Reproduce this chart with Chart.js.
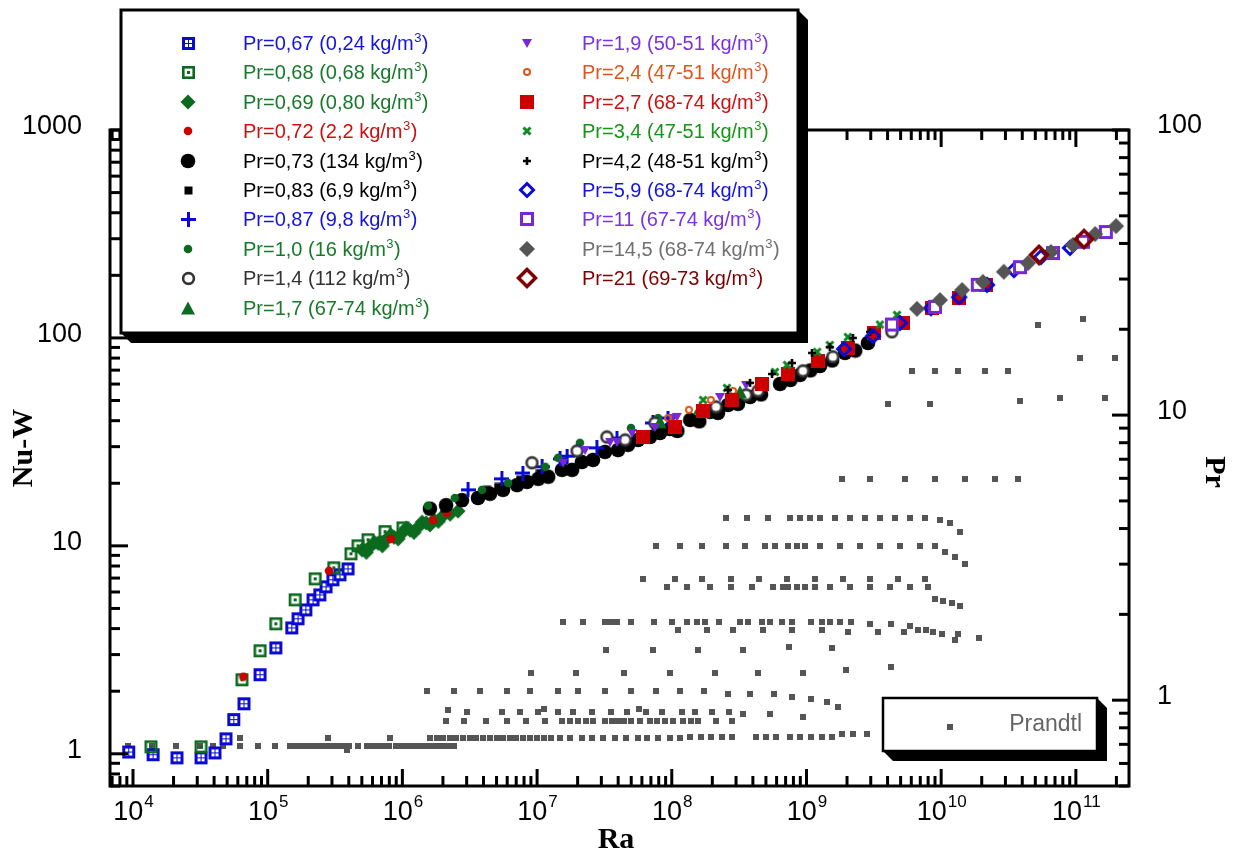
<!DOCTYPE html>
<html>
<head>
<meta charset="utf-8">
<title>Nu-W vs Ra</title>
<script src="https://cdn.jsdelivr.net/npm/chart.js@4.4.1/dist/chart.umd.min.js"></script>
<style>
  body { margin: 0; background: #fff; }
  canvas { display: block; }
</style>
</head>
<body>
<canvas id="myChart" width="1237" height="855"></canvas>
<script>
// ---- datos (Ra, Nu-W) ----
const ra067 = [9.3e3,1.41e4,2.12e4,3.2e4,4.06e4,4.9e4,5.6e4,6.67e4,8.77e4,1.15e5,1.51e5,1.68e5,1.92e5,2.17e5,2.44e5,2.71e5,3.05e5,3.44e5,3.95e5];
const nu067 = [1.02,0.99,0.956,0.956,1.01,1.18,1.46,1.74,2.40,3.23,4.03,4.46,4.92,5.50,5.81,6.35,6.87,7.26,7.75];
const ra068 = [1.36e4,3.2e4,6.44e4,8.77e4,1.15e5,1.6e5,2.25e5,3.1e5,4.15e5,4.68e5,5.56e5,7.43e5,1.01e6];
const nu068 = [1.08,1.08,2.27,3.13,4.22,5.5,6.94,7.84,9.16,10.0,10.7,11.7,12.2];
const ra069 = [5.01e5,5.4e5,5.74e5,6.2e5,6.59e5,7.1e5,7.55e5,8.2e5,8.67e5,9.3e5,9.93e5,1.07e6,1.14e6,1.22e6,1.31e6,1.4e6,1.5e6,1.6e6,1.72e6,1.85e6,1.97e6,2.26e6,2.59e6];
const nu069 = [9.57,9.3,9.89,10.4,10.3,10.0,10.7,11.3,11.0,10.8,11.5,12.2,11.9,11.6,12.3,13.0,12.9,12.6,13.3,13.1,13.8,14.2,14.7];
const ra072 = [6.6e4,2.85e5,8.22e5,1.69e6,2.14e6,4.25e6,5.7e6];
const nu072 = [2.35,7.59,10.8,13.3,14.4,18.2,19.4];
const ra073 = [1.6e6,2.11e6,2.77e6,3.64e6,4.47e6,5.58e6,7.1e6,8.41e6,1.02e7,1.21e7,1.53e7,1.82e7,2.15e7,2.6e7,3.19e7,3.99e7,4.73e7,5.61e7,6.89e7,8.17e7,9.7e7,1.37e8,1.92e8,2.61e8,3.81e8,6.36e8,8.95e8,1.26e9,1.93e9,2.86e9,
               1.1e8,1.6e8,2.2e8,3.1e8,4.6e8,7.6e8,1.07e9,1.55e9,2.3e9];
const nu073 = [15.1,15.7,16.6,17.0,17.8,18.6,19.6,20.3,21.0,21.5,23.2,23.2,25.3,25.9,28.3,28.9,30.6,32.3,33.4,34.9,36.5,40.3,44.1,47.6,52.0,60.1,66.4,73.3,84.7,94.6,
               35.7,39.7,43.6,48.2,53.5,62.8,69.8,77.9,87.0];
const ra083 = [2.07e6,2.77e6,4.25e6,5.13e6,7.47e6,1.05e7];
const nu083 = [15.2,16.1,18.6,19.2,20.8,22.4];
const ra087 = [3.07e6,5.48e6,7.85e6,1.09e7,1.48e7,1.67e7,2.78e7,3.92e7,7.25e7,9.37e7];
const nu087 = [18.6,21.0,22.4,24.0,26.2,27.0,29.6,33.0,39.0,41.2];
const ra10 = [1.55e6,2.45e6,3.9e6,6.08e6,1.15e7,1.43e7,2.08e7,4.98e7,7.91e7];
const nu10 = [15.6,17.0,18.6,20.1,24.0,26.5,31.3,36.9,41.2];
const ra14 = [9.16e6,1.98e7,3.3e7,4.5e7,7.5e7,2.13e8,3.56e8,4.37e8,9.42e8,1.57e9,4.31e9];
const nu14 = [25.1,28.6,33.4,32.3,39.0,46.6,53.2,55.6,69.4,81.1,107];
const ra17 = [8.17e7,1.62e8,3.21e8];
const nu17 = [39.5,46.1,55.0];
const ra19 = [1.56e7,2.27e7,3.48e7,3.92e7,5.07e7,7.5e7,1.0e8,1.09e8,2.28e8,3.56e8];
const nu19 = [25.1,28.9,31.6,31.6,34.9,37.3,41.2,41.7,52.0,59.4];
const ra24 = [9.37e7,1.34e8,1.95e8,2.85e8];
const nu24 = [41.2,45.1,50.3,55.6];
const ra27 = [6.11e7,1.06e8,1.71e8,2.8e8,4.68e8,7.3e8,1.22e9,2.03e9,3.17e9,5.2e9,8.55e9,1.36e10,2.15e10];
const nu27 = [33.4,37.3,44.6,50.3,60.1,67.1,77.5,89.5,106,118,139,156,180];
const ra34 = [1.71e8,2.57e8,5.83e8,7.17e8,1.2e9,1.49e9,2.03e9,3.51e9,4.7e9];
const nu34 = [50.3,57.5,68.6,74.2,85.7,92.5,101,116,129];
const ra42 = [2.61e8,3.81e8,5.55e8,7.8e8,1.1e9,1.49e9,2.21e9,2.96e9];
const nu42 = [56.2,60.8,67.1,75.8,84.7,90.5,100,107];
const ra59 = [1.9e9,3.12e9,4.94e9,8.4e9,1.36e10,2.19e10,3.47e10,5.5e10,9.04e10];
const nu59 = [88.5,102,118,139,157,180,212,245,271];
const ra11 = [4.31e9,9.0e9,1.87e10,3.85e10,6.76e10,1.13e11,1.67e11];
const nu11 = [116,141,180,219,256,290,323];
const ra145 = [6.61e9,9.8e9,1.43e10,2.04e10,2.92e10,4.41e10,6.53e10,9.51e10,1.39e11,1.99e11];
const nu145 = [138,152,170,186,208,229,259,280,316,345];
const ra21 = [5.32e10,1.15e11];
const nu21 = [251,299];

// Prandtl (eje derecho): pares [Ra, Pr]
const prandtl = [
  [9.2e3,0.689],[1.38e4,0.689],[2.09e4,0.689],[3.14e4,0.689],[3.92e4,0.689],[4.66e4,0.689],[6.2e4,0.689],[8.45e4,0.689],[1.13e5,0.689],
  [1.47e5,0.689],[1.63e5,0.689],[1.8e5,0.689],[2e5,0.689],[2.2e5,0.689],[2.45e5,0.689],[2.7e5,0.689],[3e5,0.689],[3.3e5,0.689],[3.65e5,0.689],[4e5,0.689],[4.7e5,0.689],
  [5.45e5,0.689],[6e5,0.689],[6.6e5,0.689],[7.3e5,0.689],[8e5,0.689],[8.9e5,0.689],[9.8e5,0.689],[1.08e6,0.689],[1.2e6,0.689],[1.33e6,0.689],[1.47e6,0.689],[1.62e6,0.689],[1.8e6,0.689],[2e6,0.689],[2.2e6,0.689],[2.4e6,0.689],
  [6.2e4,0.735],[2.8e5,0.735],[3.88e5,0.667],[8.1e5,0.735],
  [1.6e6,0.735],[1.8e6,0.735],[2e6,0.735],[2.25e6,0.735],[2.5e6,0.735],[2.8e6,0.735],[3.15e6,0.735],[3.5e6,0.735],[4e6,0.735],[4.5e6,0.735],[5e6,0.735],[5.6e6,0.735],[6.3e6,0.735],[7e6,0.735],[7.9e6,0.735],[8.9e6,0.735],[1e7,0.735],[1.12e7,0.735],[1.27e7,0.735],
  [1.48e7,0.735],[1.77e7,0.735],[2.15e7,0.735],[2.57e7,0.735],[3.08e7,0.735],[3.77e7,0.735],[4.6e7,0.735],[5.6e7,0.735],[6.6e7,0.735],[7.9e7,0.735],[9.7e7,0.735],[1.15e8,0.735],
  [1.37e8,0.741],[1.65e8,0.741],[1.97e8,0.741],[2.37e8,0.741],[2.8e8,0.741],[4.2e8,0.741],[4.97e8,0.741],[5.95e8,0.741],[7.5e8,0.741],[8.9e8,0.741],[1.08e9,0.741],[1.3e9,0.741],[1.54e9,0.741],
  [1.85e9,0.759],[2.2e9,0.759],[2.8e9,0.759],
  [2.11e6,0.844],[2.87e6,0.844],[4.18e6,0.844],[5.98e6,0.844],[8.28e6,0.844],[1.15e7,0.844],[1.53e7,0.844],[1.77e7,0.844],[2.01e7,0.844],[2.32e7,0.844],[2.6e7,0.844],[3.19e7,0.844],[3.6e7,0.844],
  [4e7,0.844],[4.45e7,0.844],[4.97e7,0.844],[5.8e7,0.844],[6.89e7,0.844],[7.8e7,0.844],[8.9e7,0.844],[1.02e8,0.844],[1.22e8,0.844],[1.38e8,0.844],[1.57e8,0.844],[2.12e8,0.844],[2.8e8,0.844],
  [2.18e6,0.922],[3.02e6,0.907],[5.48e6,0.907],[7.47e6,0.907],[1.02e7,0.907],[1.12e7,0.93],[1.43e7,0.907],[1.85e7,0.907],[2.56e7,0.907],[3.54e7,0.907],[4.65e7,0.907],[5.71e7,0.93],
  [6.44e7,0.907],[8.46e7,0.907],[1.19e8,0.907],[1.49e8,0.907],[1.99e8,0.907],[2.66e8,0.907],[3.38e8,0.893],[5.36e8,0.893],[9.42e8,0.871],
  [1.52e6,1.076],[2.41e6,1.076],[3.77e6,1.076],[5.98e6,1.076],[8.85e6,1.076],[1.43e7,1.076],[2.01e7,1.076],[3.19e7,1.076],[4.97e7,1.076],[7.64e7,1.076],[1.15e8,1.076],[1.72e8,1.076],
  [2.61e8,1.05],[3.81e8,1.05],[5.74e8,1.05],[7.8e8,1.025],[1.08e9,1.008],[1.42e9,0.984],[1.71e9,0.945],
  [9.02e6,1.245],[1.95e7,1.245],[4.42e7,1.245],[9.7e7,1.245],[2.09e8,1.245],[4.37e8,1.245],[9.42e8,1.245],[1.96e9,1.275],[4.24e9,1.307],
  [3.25e7,1.5],[7.25e7,1.5],[1.57e8,1.5],[3.38e8,1.5],[7.41e8,1.537],[1.55e9,1.52],
  [1.56e7,1.88],[2.19e7,1.88],[3.19e7,1.88],[3.54e7,1.88],[3.92e7,1.88],[4.97e7,1.88],[7.38e7,1.88],[1.0e8,1.88],[1.3e8,1.88],[1.54e8,1.88],[1.77e8,1.88],[2.24e8,1.88],
  [3.21e8,1.88],[3.68e8,1.88],[4.68e8,1.88],[5.36e8,1.88],[6.58e8,1.88],[7.8e8,1.88],[1.08e9,1.88],[1.3e9,1.88],[1.49e9,1.88],[1.77e9,1.88],[2.14e9,1.88],
  [2.96e9,1.852],[4.24e9,1.852],[5.87e9,1.823],[6.72e9,1.764],[7.71e9,1.764],[8.69e9,1.736],[1.01e10,1.708],[1.27e10,1.627],[1.33e10,1.708],[1.91e10,1.653],
  [1.11e8,1.764],[1.83e8,1.764],[2.85e8,1.764],[4.76e8,1.764],[7.8e8,1.764],[1.3e9,1.764],[2.03e9,1.736],[3.4e9,1.736],[5.3e9,1.736],
  [6.11e7,2.667],[1.06e8,2.667],[1.68e8,2.667],[2.75e8,2.667],[4.45e8,2.667],[7.17e8,2.667],[1.16e9,2.667],[1.87e9,2.667],[2.96e9,2.667],[4.77e9,2.667],[7.58e9,2.667],
  [9.0e9,2.27],[1.03e10,2.23],[1.2e10,2.195],[1.38e10,2.14],
  [9.2e7,2.5],[1.3e8,2.5],[1.92e8,2.5],[2.75e8,2.5],[3.94e8,2.5],[5.64e8,2.5],[6.7e8,2.5],[7.3e8,2.5],[8.5e8,2.5],[9.75e8,2.5],[1.16e9,2.5],[1.49e9,2.5],[2.1e9,2.5],[2.96e9,2.5],[4.17e9,2.5],[5.87e9,2.5],[7.98e9,2.5],
  [7.64e7,3.46],[1.15e8,3.46],[1.68e8,3.46],[2.53e8,3.46],[3.49e8,3.46],[4.92e8,3.46],[5.83e8,3.46],[7.3e8,3.46],[8.5e8,3.46],[9.75e8,3.46],[1.26e9,3.46],[1.77e9,3.46],[2.5e9,3.46],[3.51e9,3.46],[4.94e9,3.46],[6.96e9,3.46],[9.0e9,3.46],
  [1.07e10,3.32],[1.27e10,3.19],[1.5e10,3.01],
  [2.53e8,4.37],[3.62e8,4.37],[5.17e8,4.37],[7.53e8,4.37],[8.95e8,4.37],[1.06e9,4.37],[1.26e9,4.37],[1.63e9,4.37],[2.1e9,4.37],[2.72e9,4.37],[3.51e9,4.37],[4.54e9,4.37],[5.87e9,4.37],[7.58e9,4.37],
  [9.8e9,4.3],[1.16e10,4.19],[1.38e10,3.9],
  [1.85e9,5.99],[2.96e9,5.99],[5.38e9,5.99],[9.0e9,5.99],[1.5e10,5.99],[2.5e10,5.99],[3.72e10,5.99],
  [4.03e9,10.9],[8.26e9,10.9],[3.85e10,11.2],[7.62e10,11.5],[1.64e11,11.5],
  [6.07e9,14.3],[9.0e9,14.3],[1.33e10,14.3],[2.11e10,14.3],[3.13e10,14.3],[1.07e11,15.9],[1.95e11,15.9],
  [5.24e10,20.7],[1.13e11,21.8]
];

// ---- simbolos ----
const AZUL = '#0a0ad6', VERDE = '#0c6a1e', ROJO = '#cc0000', NEGRO = '#000000';
const MORADO = '#7428d8', NARANJA = '#e0541c', VERDE2 = '#0f8a22', GRIS = '#555555', GRANATE = '#800000';

function simbolo(w, h, dibujar) {
  const c = document.createElement('canvas');
  c.width = w; c.height = h;
  dibujar(c.getContext('2d'), w / 2, h / 2);
  return c;
}
function rombo(g, cx, cy, r) {
  g.beginPath(); g.moveTo(cx, cy - r); g.lineTo(cx + r, cy); g.lineTo(cx, cy + r); g.lineTo(cx - r, cy); g.closePath();
}
function circulo(g, cx, cy, r) { g.beginPath(); g.arc(cx, cy, r, 0, Math.PI * 2); }

const s067 = simbolo(15, 15, (g) => {
  g.fillStyle = AZUL; g.fillRect(1, 1, 13, 13);
  g.fillStyle = '#fff';
  [[4, 4], [8, 4], [4, 8], [8, 8]].forEach(p => g.fillRect(p[0], p[1], 3, 3));
});
const s068 = simbolo(15, 15, (g) => {
  g.strokeStyle = VERDE; g.lineWidth = 2.6; g.strokeRect(2.3, 2.3, 10.4, 10.4);
  g.fillStyle = VERDE; g.fillRect(6, 6, 3, 3);
});
const s069 = simbolo(16, 16, (g, cx, cy) => { g.fillStyle = VERDE; rombo(g, cx, cy, 7.5); g.fill(); });
const s072 = simbolo(10, 10, (g, cx, cy) => { g.fillStyle = ROJO; circulo(g, cx, cy, 4.3); g.fill(); });
const s073 = simbolo(16, 16, (g, cx, cy) => { g.fillStyle = NEGRO; circulo(g, cx, cy, 7.3); g.fill(); });
const s083 = simbolo(9, 9, (g) => { g.fillStyle = NEGRO; g.fillRect(0.5, 0.5, 8, 8); });
const s087 = simbolo(15, 15, (g, cx, cy) => {
  g.strokeStyle = AZUL; g.lineWidth = 3;
  g.beginPath(); g.moveTo(0, cy); g.lineTo(15, cy); g.moveTo(cx, 0); g.lineTo(cx, 15); g.stroke();
});
const s10 = simbolo(10, 10, (g, cx, cy) => { g.fillStyle = VERDE; circulo(g, cx, cy, 4.3); g.fill(); });
const s14 = simbolo(15, 15, (g, cx, cy) => {
  circulo(g, cx, cy, 5.4); g.fillStyle = '#fff'; g.fill(); g.strokeStyle = '#333'; g.lineWidth = 2.6; g.stroke();
});
const s17 = simbolo(16, 16, (g) => {
  g.fillStyle = VERDE; g.beginPath(); g.moveTo(8, 1.5); g.lineTo(15, 14.5); g.lineTo(1, 14.5); g.closePath(); g.fill();
});
const s19 = simbolo(12, 12, (g) => {
  g.fillStyle = MORADO; g.beginPath(); g.moveTo(1, 2); g.lineTo(11, 2); g.lineTo(6, 11); g.closePath(); g.fill();
});
const s24 = simbolo(10, 10, (g, cx, cy) => { circulo(g, cx, cy, 3); g.strokeStyle = NARANJA; g.lineWidth = 2; g.stroke(); });
const s27 = simbolo(14, 14, (g) => { g.fillStyle = ROJO; g.fillRect(0, 0, 14, 14); });
const s34 = simbolo(10, 10, (g) => {
  g.strokeStyle = VERDE2; g.lineWidth = 3;
  g.beginPath(); g.moveTo(1.5, 1.5); g.lineTo(8.5, 8.5); g.moveTo(8.5, 1.5); g.lineTo(1.5, 8.5); g.stroke();
});
const s42 = simbolo(10, 10, (g, cx, cy) => {
  g.strokeStyle = NEGRO; g.lineWidth = 2.6;
  g.beginPath(); g.moveTo(1, cy); g.lineTo(9, cy); g.moveTo(cx, 1); g.lineTo(cx, 9); g.stroke();
});
const s59 = simbolo(18, 18, (g, cx, cy) => { g.strokeStyle = AZUL; g.lineWidth = 3; rombo(g, cx, cy, 6.5); g.stroke(); });
const s11 = simbolo(16, 16, (g) => {
  g.fillStyle = '#fff'; g.fillRect(2, 2, 12, 12);
  g.strokeStyle = MORADO; g.lineWidth = 3; g.strokeRect(2.5, 2.5, 11, 11);
});
const s145 = simbolo(18, 18, (g, cx, cy) => { g.fillStyle = GRIS; rombo(g, cx, cy, 8); g.fill(); });
const s21 = simbolo(22, 22, (g, cx, cy) => { g.strokeStyle = GRANATE; g.lineWidth = 3.5; rombo(g, cx, cy, 8.5); g.stroke(); });
const sPr = simbolo(6, 6, (g) => { g.fillStyle = GRIS; g.fillRect(0, 0, 6, 6); });

function serie(label, ra, nu, estilo, colorTexto, n) {
  return {
    label: label,
    data: ra.map((r, i) => ({x: r, y: nu[i]})),
    pointStyle: estilo,
    pointRadius: 7,
    textColor: colorTexto,
    yAxisID: 'y',
    order: -n
  };
}

const series = [
  serie('Pr=0,67 (0,24 kg/m', ra067, nu067, s067, '#1414dc', 0),
  serie('Pr=0,68 (0,68 kg/m', ra068, nu068, s068, '#17792a', 1),
  serie('Pr=0,69 (0,80 kg/m', ra069, nu069, s069, '#17792a', 2),
  serie('Pr=0,72 (2,2 kg/m', ra072, nu072, s072, '#cc1111', 3),
  serie('Pr=0,73 (134 kg/m', ra073, nu073, s073, '#000000', 4),
  serie('Pr=0,83 (6,9 kg/m', ra083, nu083, s083, '#000000', 5),
  serie('Pr=0,87 (9,8 kg/m', ra087, nu087, s087, '#1414dc', 6),
  serie('Pr=1,0 (16 kg/m', ra10, nu10, s10, '#17792a', 7),
  serie('Pr=1,4 (112 kg/m', ra14, nu14, s14, '#333333', 8),
  serie('Pr=1,7 (67-74 kg/m', ra17, nu17, s17, '#17792a', 9),
  serie('Pr=1,9 (50-51 kg/m', ra19, nu19, s19, '#7a33e0', 10),
  serie('Pr=2,4 (47-51 kg/m', ra24, nu24, s24, '#e0541c', 11),
  serie('Pr=2,7 (68-74 kg/m', ra27, nu27, s27, '#cc1111', 12),
  serie('Pr=3,4 (47-51 kg/m', ra34, nu34, s34, '#169616', 13),
  serie('Pr=4,2 (48-51 kg/m', ra42, nu42, s42, '#000000', 14),
  serie('Pr=5,9 (68-74 kg/m', ra59, nu59, s59, '#1414dc', 15),
  serie('Pr=11 (67-74 kg/m', ra11, nu11, s11, '#7a33e0', 16),
  serie('Pr=14,5 (68-74 kg/m', ra145, nu145, s145, '#707070', 17),
  serie('Pr=21 (69-73 kg/m', ra21, nu21, s21, '#800000', 18)
];

const prandtlSet = {
  label: 'Prandtl',
  data: prandtl.map(p => ({x: p[0], y: p[1]})),
  pointStyle: sPr,
  pointRadius: 3,
  yAxisID: 'y2',
  order: 1
};

// ---- marco, marcas, etiquetas y leyendas ----
function linea(ctx, x1, y1, x2, y2) { ctx.beginPath(); ctx.moveTo(x1, y1); ctx.lineTo(x2, y2); ctx.stroke(); }

function cajaSombra(ctx, x, y, w, h, s, lw) {
  ctx.fillStyle = '#000';
  ctx.beginPath();
  ctx.moveTo(x + w, y); ctx.lineTo(x + w + s, y + s); ctx.lineTo(x + w + s, y + h + s);
  ctx.lineTo(x + s, y + h + s); ctx.lineTo(x, y + h); ctx.closePath(); ctx.fill();
  ctx.fillStyle = '#fff'; ctx.fillRect(x, y, w, h);
  ctx.strokeStyle = '#000'; ctx.lineWidth = lw; ctx.strokeRect(x, y, w, h);
}

function textoM3(ctx, txt, x, y, color) {
  ctx.fillStyle = color;
  ctx.textAlign = 'left'; ctx.textBaseline = 'alphabetic';
  ctx.font = '20px "Liberation Sans", Arial, sans-serif';
  ctx.fillText(txt, x, y);
  let w = ctx.measureText(txt).width;
  ctx.font = '13px "Liberation Sans", Arial, sans-serif';
  ctx.fillText('3', x + w + 0.5, y - 8);
  w += ctx.measureText('3').width + 1;
  ctx.font = '20px "Liberation Sans", Arial, sans-serif';
  ctx.fillText(')', x + w, y);
}

const marcoPlugin = {
  id: 'marco',
  afterDatasetsDraw(chart) {
    const {ctx, chartArea: a, scales} = chart;
    const sx = scales.x, sy = scales.y, sy2 = scales.y2;
    ctx.save();
    ctx.strokeStyle = '#000';
    ctx.lineWidth = 3;
    ctx.lineCap = 'butt';
    ctx.strokeRect(a.left, a.top, a.right - a.left, a.bottom - a.top);

    for (let e = 3; e <= 11; e++) {
      for (let k = 1; k <= 9; k++) {
        const v = k * Math.pow(10, e);
        if (v < sx.min || v > sx.max) continue;
        const px = sx.getPixelForValue(v);
        const len = k === 1 ? 17 : 10;
        linea(ctx, px, a.bottom, px, a.bottom - len);
        linea(ctx, px, a.top, px, a.top + len);
      }
    }
    for (let e = -1; e <= 3; e++) {
      for (let k = 1; k <= 9; k++) {
        const v = k * Math.pow(10, e);
        if (v >= sy.min * 0.999 && v <= sy.max * 1.001) {
          const py = sy.getPixelForValue(v);
          linea(ctx, a.left, py, a.left + (k === 1 ? 18 : 10), py);
        }
        if (v >= sy2.min * 0.999 && v <= sy2.max * 1.001) {
          const py = sy2.getPixelForValue(v);
          linea(ctx, a.right, py, a.right - (k === 1 ? 17 : 10), py);
        }
      }
    }

    // leyenda principal
    cajaSombra(ctx, 121, 10, 677, 323, 10, 3);
    series.forEach((ds, i) => {
      const col = i < 10 ? 0 : 1;
      const fila = i < 10 ? i : i - 10;
      const yc = 43 + fila * 29.4;
      const xm = col === 0 ? 188 : 527;
      const xt = col === 0 ? 243 : 582;
      const st = ds.pointStyle;
      ctx.drawImage(st, Math.round(xm - st.width / 2), Math.round(yc - st.height / 2));
      textoM3(ctx, ds.label, xt, yc + 7, ds.textColor);
    });

    // leyenda Prandtl
    cajaSombra(ctx, 883, 698, 214, 53, 10, 2.5);
    ctx.drawImage(sPr, 947, 724);
    ctx.fillStyle = '#666';
    ctx.font = '23px "Liberation Sans", Arial, sans-serif';
    ctx.textAlign = 'right'; ctx.textBaseline = 'middle';
    ctx.fillText('Prandtl', 1082, 725);
    ctx.restore();
  },
  afterDraw(chart) {
    const {ctx, chartArea: a, scales} = chart;
    ctx.save();
    ctx.fillStyle = '#000';
    ctx.font = '27px "Liberation Sans", Arial, sans-serif';
    ctx.textBaseline = 'middle';
    ctx.textAlign = 'right';
    [1, 10, 100, 1000].forEach(v => ctx.fillText(String(v), 82, scales.y.getPixelForValue(v) - 3));
    ctx.textAlign = 'left';
    [1, 10, 100].forEach(v => ctx.fillText(String(v), 1157, scales.y2.getPixelForValue(v) - 4));

    ctx.textBaseline = 'alphabetic';
    for (let e = 4; e <= 11; e++) {
      const px = scales.x.getPixelForValue(Math.pow(10, e));
      ctx.font = '27px "Liberation Sans", Arial, sans-serif';
      const w1 = ctx.measureText('10').width;
      ctx.font = '17px "Liberation Sans", Arial, sans-serif';
      const w2 = ctx.measureText(String(e)).width;
      const x0 = px - (w1 + w2) / 2;
      ctx.font = '27px "Liberation Sans", Arial, sans-serif';
      ctx.textAlign = 'left';
      ctx.fillText('10', x0, 820);
      ctx.font = '17px "Liberation Sans", Arial, sans-serif';
      ctx.fillText(String(e), x0 + w1 + 1, 807);
    }

    ctx.font = 'bold 30px "Liberation Serif", "Times New Roman", serif';
    ctx.textAlign = 'center'; ctx.textBaseline = 'middle';
    ctx.fillText('Ra', 616, 840);
    ctx.save();
    ctx.translate(24, 448); ctx.rotate(-Math.PI / 2);
    ctx.fillText('Nu-W', 0, 0);
    ctx.restore();
    ctx.save();
    ctx.translate(1214, 472); ctx.rotate(Math.PI / 2);
    ctx.fillText('Pr', 0, 0);
    ctx.restore();
    ctx.restore();
  }
};

const myChart = new Chart(document.getElementById('myChart').getContext('2d'), {
  type: 'scatter',
  data: { datasets: series.concat([prandtlSet]) },
  options: {
    responsive: false,
    animation: false,
    events: [],
    layout: { padding: { left: 110, right: 108, top: 130, bottom: 69 } },
    plugins: { legend: { display: false }, tooltip: { enabled: false } },
    scales: {
      x: { type: 'logarithmic', min: 6750, max: 2.48e11, display: false },
      y: { type: 'logarithmic', min: 0.7, max: 1000, display: false },
      y2: { type: 'logarithmic', min: 0.5, max: 100, display: false, position: 'right' }
    }
  },
  plugins: [marcoPlugin]
});
</script>
</body>
</html>
